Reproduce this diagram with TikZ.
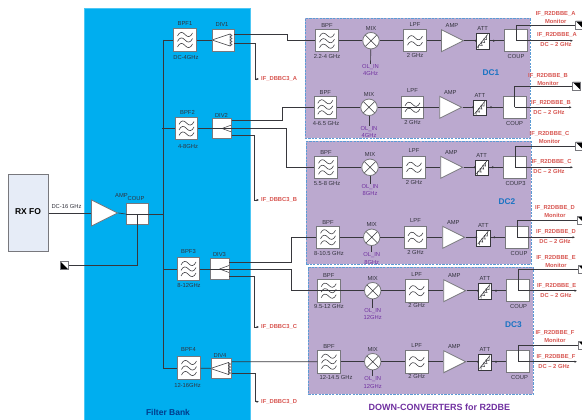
\documentclass[tikz,border=0pt]{standalone}
\usepackage{fontspec}
\setmainfont{Liberation Sans}
\usetikzlibrary{shapes.geometric,arrows.meta}
\definecolor{fbblue}{RGB}{0,174,239}
\definecolor{dcfill}{RGB}{187,169,207}
\definecolor{dcedge}{RGB}{91,155,213}
\definecolor{wire}{RGB}{55,55,60}
\definecolor{edgegray}{RGB}{120,120,125}
\definecolor{redtxt}{RGB}{215,85,80}
\definecolor{purtxt}{RGB}{112,48,160}
\definecolor{bluetxt}{RGB}{25,115,195}
\definecolor{navytxt}{RGB}{0,60,140}
\definecolor{txtgray}{RGB}{50,50,60}
\definecolor{rxfill}{RGB}{230,236,247}
\newcommand\smallfont{\fontsize{5.8}{6.5}\selectfont}
\newcommand\wavyline[1]{\draw[wire,line width=0.55pt] (-7.5,#1+1.5) .. controls (-5.5,#1-3) and (-2.5,#1-3) .. (0,#1) .. controls (2.5,#1+3) and (5.5,#1+3) .. (7.5,#1-1.5);}
\tikzset{
  lab/.style={font=\smallfont,text=txtgray,inner sep=0pt},
  redlab/.style={font=\smallfont\bfseries,text=redtxt,inner sep=0pt},
  ollab/.style={font=\smallfont,text=purtxt,inner sep=0pt},
  dclab/.style={font=\fontsize{8.3}{9}\selectfont\bfseries,text=bluetxt,inner sep=0pt},
  wireline/.style={draw=wire,line width=0.65pt},
  tipped/.style={wireline,-{Latex[length=2.4pt,width=2.4pt]}},
  dcgroup/.style={fill=dcfill,draw=dcedge,line width=0.8pt,dash pattern=on 2.2pt off 1.2pt},
  boxbase/.style={draw=edgegray,fill=white,line width=0.8pt,inner sep=0pt},
  bpfbox/.style={boxbase,minimum size=22.4pt,path picture={
    \begin{scope}[shift={(path picture bounding box.center)}]
      \wavyline{-5.5}\wavyline{0}\wavyline{5.5}
    \end{scope}}},
  lpfbox/.style={boxbase,minimum size=22.4pt,path picture={
    \begin{scope}[shift={(path picture bounding box.center)}]
      \wavyline{-3}\wavyline{3}
    \end{scope}}},
  mixcirc/.style={circle,boxbase,minimum size=16.5pt,path picture={
    \begin{scope}[shift={(path picture bounding box.center)}]
      \draw[wire,line width=0.5pt] (-6,-6) -- (6,6) (-6,6) -- (6,-6);
    \end{scope}}},
  ampshape/.style={isosceles triangle,isosceles triangle stretches,shape border rotate=0,
    boxbase,minimum width=22pt,minimum height=22pt,anchor=west},
  attbox/.style={boxbase,draw=wire,minimum width=13.3pt,minimum height=15.6pt,path picture={
    \begin{scope}[shift={(path picture bounding box.center)}]
      \draw[wire,line width=0.55pt] (-5.5,6) -- (5,-7);
      \draw[wire,line width=0.5pt] (-4,7) -- (-4,3.5) -- (-0.5,4) -- (-1.5,0.5) -- (2,1) -- (1,-2.5) -- (4,-2) -- (4,-6);
    \end{scope}}},
  coupbox/.style={boxbase,minimum width=23pt,minimum height=22pt},
  divbox/.style={boxbase,minimum width=#1,minimum height=20.5pt,path picture={
    \begin{scope}[shift={(path picture bounding box.west)}]
      \draw[wire,line width=0.5pt] (0,0) -- ({#1},-7) (0,0) -- ({#1},7);
    \end{scope}}},
  divres/.style={boxbase,minimum size=22pt,path picture={
    \begin{scope}[shift={(path picture bounding box.center)}]
      \draw[wire,line width=0.5pt] (-11,0) -- (7,-6) -- (7,6) -- cycle;
      \draw[wire,line width=0.5pt] (7,-6) -- (9,-4.5) -- (7,-3) -- (9,-1.5) -- (7,0) -- (9,1.5) -- (7,3) -- (9,4.5) -- (7,6);
    \end{scope}}},
  termbox/.style={draw=edgegray,fill=white,line width=0.6pt,inner sep=0pt,minimum size=8pt,path picture={
    \begin{scope}[shift={(path picture bounding box.center)}]
      \fill[black] (-4,-4) -- (4,4) -- (-4,4) -- cycle;
    \end{scope}}},
  termboxr/.style={draw=edgegray,fill=white,line width=0.6pt,inner sep=0pt,minimum size=8pt,path picture={
    \begin{scope}[shift={(path picture bounding box.center)}]
      \fill[black] (-4,-4) -- (4,-4) -- (4,4) -- cycle;
    \end{scope}}},
  dot/.style={circle,fill=wire,inner sep=0pt,minimum size=2.2pt}
}
% id, y, bpf x, mix x, lpf x, amp left x, att x, coup x, output end x
\newcommand\ChainUnit[9]{
  \node[bpfbox] (bpf#1) at (#3,#2) {};
  \node[mixcirc] (mix#1) at (#4,#2) {};
  \node[lpfbox] (lpf#1) at (#5,#2) {};
  \node[ampshape] (amp#1) at (#6,#2) {};
  \node[attbox] (att#1) at (#7,#2+0.8) {};
  \node[coupbox] (coup#1) at (#8,#2) {};
  \coordinate (out#1) at (#9,#2);
  \node[lab,anchor=center] (bpfname#1) at (#3,#2-15) {BPF};
  \node[lab] (mixname#1) at (#4,#2-12.5) {MIX};
  \node[lab] (lpfname#1) at (#5,#2-16.5) {LPF};
  \node[lab] (ampname#1) at (#6+11,#2-15) {AMP};
  \node[lab] (attname#1) at (#7,#2-12) {ATT};
  \draw[wireline] (bpf#1) -- (mix#1);
  \draw[wireline] (mix#1) -- (lpf#1);
  \draw[wireline] (lpf#1) -- (amp#1.west);
  \draw[wireline] (amp#1.east) -- (att#1.west |- amp#1.east);
  \draw[wireline,line width=0.9pt] (att#1.east |- amp#1.east) -- (coup#1.west);
  \draw[tipped] (coup#1.center) -- (out#1);
  \node[dot] (dota#1) at (att#1.west |- amp#1.east) {};
  \node[dot] (dotb#1) at (#7+11,#2) {};
  \node[lab] (twoghz#1) at (#5,#2+15) {2 GHz};
}
% id, y, mix x, ol freq, label offset
\newcommand\OLUnit[5]{
  \node[ollab] (ol#1) at (#3,#2+#5) {OL\_IN};
  \node[ollab] (olf#1) at (#3,#2+#5+7.2) {#4};
  \draw[wireline] (mix#1) -- (ol#1.north);
}
% id, monitor label x,y; term x; monitor line y; out label x,y
\newcommand\OutUnit[8]{
  \node[redlab] (mona#1) at (#2,#3) {IF\_R2DBBE\_#1};
  \node[redlab] (monb#1) at (#2,#3+7.2) {Monitor};
  \node[termboxr] (term#1) at (#4,#5) {};
  \draw[wireline] (coup#1.center) |- (term#1.west);
  \node[redlab] (outa#1) at (#6,#7) {IF\_R2DBBE\_#1};
  \node[redlab] (outb#1) at (#8,#7+9.7) {DC – 2 GHz};
}
\begin{document}
\begin{tikzpicture}[x=1pt,y=-1pt]
\useasboundingbox (0,0) rectangle (582,420);
% backgrounds
\node[draw=fbblue!70!white,fill=fbblue,line width=0.8pt,minimum width=166pt,minimum height=413pt,inner sep=0pt,anchor=north west] (bank) at (84,8) {};
\node[font=\fontsize{8.5}{9}\selectfont\bfseries,text=navytxt,inner sep=0pt] (bankname) at (168,412) {Filter Bank};
\node[dcgroup,minimum width=225.5pt,minimum height=120pt,inner sep=0pt,anchor=north west] (dcone) at (304.5,18) {};
\node[dcgroup,minimum width=225pt,minimum height=123pt,inner sep=0pt,anchor=north west] (dctwo) at (306,141) {};
\node[dcgroup,minimum width=224.7pt,minimum height=127.3pt,inner sep=0pt,anchor=north west] (dcthree) at (308,266.7) {};
\node[dclab] (dconame) at (491,73) {DC1};
\node[dclab] (dctwoname) at (507,202) {DC2};
\node[dclab] (dcthreename) at (513.5,325) {DC3};
\node[font=\fontsize{9}{10}\selectfont\bfseries,text=purtxt,inner sep=0pt] (dcname) at (439.5,407) {DOWN-CONVERTERS for R2DBE};
% input
\node[draw=edgegray,fill=rxfill,line width=0.8pt,minimum width=40pt,minimum height=76.7pt,anchor=north west,inner sep=0pt] (rx) at (8,174) {};
\node[font=\fontsize{8.5}{9}\selectfont\bfseries,inner sep=0pt] (rxname) at (28,212) {RX FO};
\node[ampshape,minimum width=26pt,minimum height=26pt] (ampin) at (91,213) {};
\node[coupbox,minimum width=22pt,minimum height=21.5pt] (coupin) at (137,214) {};
\node[lab] (dcsixteen) at (66.5,207) {DC-16 GHz};
\node[lab] (ampinname) at (121.5,196) {AMP};
\node[lab] (coupinname) at (136,199) {COUP};
\node[termbox] (termin) at (64.5,265.5) {};
\draw[wireline] (rx.east |- ampin.west) -- (ampin.west);
\draw[wireline] (ampin.east) -- (coupin.west);
\draw[wireline] (coupin.west) -- (163,214);
\draw[wireline] (coupin.center) |- (termin.east);
% filter bank
\node[bpfbox] (fone) at (185,40) {};
\node[bpfbox] (ftwo) at (186.5,128.5) {};
\node[bpfbox] (fthree) at (188.5,269) {};
\node[bpfbox] (ffour) at (189,368) {};
\node[divres] (dvone) at (223,40) {};
\node[divbox=19pt] (dvtwo) at (222,128.5) {};
\node[divbox=19pt] (dvthree) at (219.5,269) {};
\node[divres,minimum size=20pt] (dvfour) at (221.5,368.5) {};
\node[lab] (fonea) at (185,24) {BPF1};
\node[lab] (fonef) at (186,58) {DC-4GHz};
\node[lab] (ftwoa) at (187.5,112) {BPF2};
\node[lab] (ftwof) at (188,146.5) {4-8GHz};
\node[lab] (fthreea) at (188.5,252) {BPF3};
\node[lab] (fthreef) at (189,286) {8-12GHz};
\node[lab] (ffoura) at (188.5,350) {BPF4};
\node[lab] (ffourf) at (187.5,386) {12-16GHz};
\node[lab] (dvonea) at (222,25) {DIV1};
\node[lab] (dvtwoa) at (221.5,115) {DIV2};
\node[lab] (dvthreea) at (219.5,255) {DIV3};
\node[lab] (dvfoura) at (220,355.5) {DIV4};
\draw[wireline] (163,40) -- (fone.west) (163,40) -- (163,368) -- (ffour.west);
\draw[wireline] (162,128.5) -- (ftwo.west);
\draw[wireline] (163,269) -- (fthree.west);
\draw[wireline] (fone) -- (dvone);
\draw[wireline] (ftwo) -- (dvtwo);
\draw[wireline] (fthree) -- (dvthree);
\draw[wireline] (ffour) -- (dvfour);
% chains
\ChainUnit{A}{40.7}{327}{371}{415}{441}{482.7}{516}{573}
\ChainUnit{B}{107.3}{325.3}{369}{412.5}{439.3}{480}{514.5}{571.7}
\ChainUnit{C}{167.3}{326}{370}{414}{440.3}{481.7}{515.3}{573}
\ChainUnit{D}{237.3}{328}{371.7}{415.5}{442.3}{483.3}{517}{575}
\ChainUnit{E}{290.7}{328.7}{372.7}{416.7}{443.3}{485}{518.3}{577}
\ChainUnit{F}{361.7}{329}{372.7}{416.7}{443.3}{485}{518.3}{577}
\OLUnit{A}{40.7}{370.5}{4GHz}{26}
\OLUnit{B}{107.3}{369}{4GHz}{21.4}
\OLUnit{C}{167.3}{370}{8GHz}{19.4}
\OLUnit{D}{237.3}{371.7}{8GHz}{17.7}
\OLUnit{E}{290.7}{372.7}{12GHz}{20}
\OLUnit{F}{361.7}{372.7}{12GHz}{17.3}
\node[lab] (freqA) at (327,57) {2.2-4 GHz};
\node[lab] (freqB) at (326,123.5) {4-6.5 GHz};
\node[lab] (freqC) at (327,183.5) {5.5-8 GHz};
\node[lab] (freqD) at (329,253.7) {8-10.5 GHz};
\node[lab] (freqE) at (329,307) {9.5-12 GHz};
\node[lab] (freqF) at (336,378) {12-14.5 GHz};
\node[lab] (cnA) at (516,56.5) {COUP};
\node[lab] (cnB) at (514.5,124) {COUP};
\node[lab] (cnC) at (515.5,183.7) {COUP3};
\node[lab] (cnD) at (519,253.7) {COUP};
\node[lab] (cnE) at (518.5,307) {COUP};
\node[lab] (cnF) at (519.5,377.7) {COUP};
\OutUnit{A}{555.7}{14}{579.5}{25}{557}{35}{556}
\OutUnit{B}{548}{76}{576.5}{86}{551}{102.5}{549}
\OutUnit{C}{549.5}{134}{579.5}{146}{551.7}{162.3}{549}
\OutUnit{D}{555}{208.3}{581}{220}{556}{232.3}{555}
\OutUnit{E}{556}{258}{582}{269}{556.7}{286.3}{556}
\OutUnit{F}{555}{333}{582}{345}{556}{357}{554}
% inter-block wiring
\draw[wireline] ([yshift=6pt]dvone.east) -- ++(53,0) |- (bpfA.west);
\draw[wireline] ([yshift=8.5pt]dvtwo.east) -- ++(50,0) |- (bpfB.west);
\draw[wireline] (dvtwo.west) -- ++(74,0) |- (bpfC.west);
\draw[wireline] ([yshift=7pt]dvthree.east) -- ++(62,0) |- (bpfD.west);
\draw[wireline] (dvthree.west) -- ++(82,0) |- (bpfE.west);
\draw[wireline] ([yshift=6.7pt]dvfour.east) -- (bpfF.west);
\draw[wireline] (bpfE.west) -- (bpfE.east);
\draw[wireline] (lpfB.west) -- (lpfB.east);
% DBBC outputs
\coordinate (dbA) at (259,79);
\coordinate (dbB) at (259,200);
\coordinate (dbC) at (259,327);
\coordinate (dbD) at (259,401.7);
\node[redlab,anchor=west] (dbnameA) at (261,79) {IF\_DBBC3\_A};
\node[redlab,anchor=west] (dbnameB) at (261,200) {IF\_DBBC3\_B};
\node[redlab,anchor=west] (dbnameC) at (261,327) {IF\_DBBC3\_C};
\node[redlab,anchor=west] (dbnameD) at (261,401.7) {IF\_DBBC3\_D};
\draw[tipped] ([yshift=-3pt]dvone.east) -- ++(21,0) |- (dbA);
\draw[tipped] ([yshift=-7pt]dvtwo.east) -- ++(22,0) |- (dbB);
\draw[tipped] ([yshift=-7pt]dvthree.east) -- ++(25,0) |- (dbC);
\draw[tipped] ([yshift=-4.7pt]dvfour.east) -- ++(23,0) |- (dbD);
\end{tikzpicture}
\end{document}
